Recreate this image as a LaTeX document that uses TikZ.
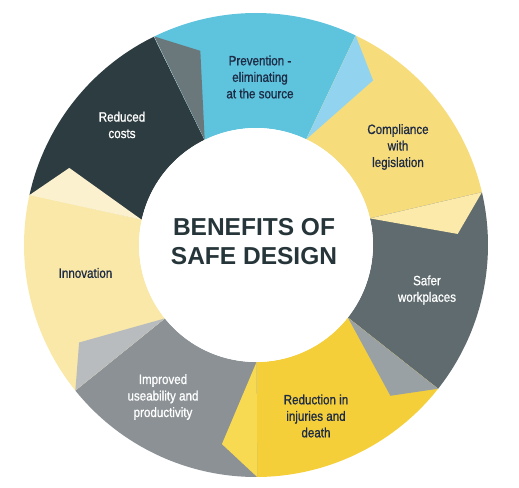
\documentclass[tikz,border=0pt]{standalone}
\usepackage{fontspec}
\setmainfont{Liberation Sans}
\newfontfamily\labfont[FakeStretch=0.86,FakeBold=0.9]{Liberation Sans}
\usetikzlibrary{positioning,calc}
\definecolor{costdark}{HTML}{2D3C40}
\definecolor{costfold}{HTML}{6A787B}
\definecolor{prevcyan}{HTML}{5EC3DD}
\definecolor{prevfold}{HTML}{92D4EF}
\definecolor{complyel}{HTML}{F7DC7C}
\definecolor{complfold}{HTML}{FBEAA9}
\definecolor{safegray}{HTML}{5F6B6E}
\definecolor{safefold}{HTML}{9AA1A4}
\definecolor{reducyel}{HTML}{F5CF3A}
\definecolor{reducfold}{HTML}{F7D952}
\definecolor{usegray}{HTML}{8B9195}
\definecolor{usefold}{HTML}{B8BCBE}
\definecolor{innocream}{HTML}{F9E8A8}
\definecolor{innofold}{HTML}{FBF1CF}
\definecolor{labnavy}{HTML}{1E2B45}
\definecolor{titledark}{HTML}{263539}
\newcommand{\Rout}{232}
\newcommand{\Rin}{117}
% one piece of the ring, from #1 going clockwise
\newcommand{\ringseg}[2]{%
 \pgfmathsetmacro\segend{#1-51.43}
 \fill[#2] (#1:\Rout) arc[start angle=#1, end angle=\segend, radius=\Rout]
 -- (\segend:\Rin) arc[start angle=\segend, end angle=#1, radius=\Rin] -- cycle;}
% folded corner laid over the next piece
\newcommand{\ringfold}[2]{%
 \pgfmathsetmacro\foldtip{#1-10}
 \fill[#2] (#1:\Rout) -- (\foldtip:202) -- (#1:\Rin) -- cycle;}

\begin{document}
\begin{tikzpicture}[x=1pt, y=1pt,
 lab/.style={font=\labfont\fontsize{13.5}{16.5}\selectfont, align=center, text=labnavy},
 labw/.style={lab, text=white}]
 \useasboundingbox (-256,-242) rectangle (263,245);
 \ringseg{167.57}{costdark}
 \ringseg{116}{prevcyan}
 \ringseg{64.57}{complyel}
 \ringseg{13.14}{safegray}
 \ringseg{-38.29}{reducyel}
 \ringseg{-89.71}{usegray}
 \ringseg{-141.14}{innocream}
 \ringfold{116}{costfold}
 \ringfold{64.57}{prevfold}
 \ringfold{13.14}{complfold}
 \ringfold{-38.29}{safefold}
 \ringfold{-89.71}{reducfold}
 \ringfold{-141.14}{usefold}
 \ringfold{167.57}{innofold}
 \fill[white] (0,0) circle[radius=\Rin];
 \node[align=center, text=titledark, font=\bfseries\fontsize{24.5}{29}\selectfont] (title) at (-2,3) {BENEFITS OF\\SAFE DESIGN};
 \node[labw] (costs) at (-134,120) {Reduced\\costs};
 \node[lab] (prevention) at (4,168) {Prevention -\\eliminating\\at the source};
 \node[lab] (compliance) at (142,98) {Compliance\\with\\legislation};
 \node[labw] (safer) at (171,-45) {Safer\\workplaces};
 \node[lab] (reduction) at (60,-171) {Reduction in\\injuries and\\death};
 \node[labw] (useability) at (-93,-152) {Improved\\useability and\\productivity};
 \node[lab] (innovation) at (-170.5,-28) {Innovation};
\end{tikzpicture}
\end{document}
